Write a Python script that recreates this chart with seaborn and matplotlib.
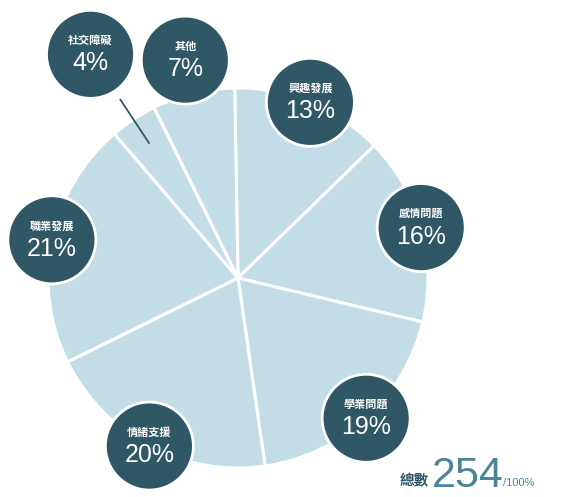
import numpy as np
import matplotlib
matplotlib.use('Agg')
import matplotlib.pyplot as plt
from matplotlib.patches import Circle
import seaborn as sns

# data (clockwise from the top)
categories = ['興趣發展', '感情問題', '學業問題', '情緒支援', '職業發展', '社交障礙', '其他']
percents = [13, 16, 19, 20, 21, 4, 7]
total = 254

sns.set_theme(style='white')
plt.rcParams['font.family'] = ['Noto Sans CJK TC', 'DejaVu Sans']

slice_color = '#c3dde6'
dark = '#2f5766'
mid_blue = '#4a8499'
num_font = ['Liberation Sans', 'DejaVu Sans']

W, H = 567, 497
cx, cy, R = 238, 219, 190
bubble_r = 44

fig = plt.figure(figsize=(W / 100, H / 100), dpi=100)
ax = fig.add_axes([0, 0, 1, 1])

wedges, _ = ax.pie(percents, colors=[slice_color] * len(percents), startangle=91,
                   counterclock=False, center=(cx, cy), radius=R,
                   wedgeprops=dict(edgecolor='white', linewidth=2.2))
ax.set_xlim(0, W)
ax.set_ylim(0, H)
ax.set_aspect('equal')
ax.axis('off')

for w, name, pct in zip(wedges, categories, percents):
    ang = np.deg2rad((w.theta1 + w.theta2) / 2)
    # small slices get their bubble pushed further out
    if pct < 5:
        d = 1.41 * R
    elif pct < 10:
        d = 1.18 * R
    else:
        d = 1.0 * R
    x, y = cx + d * np.cos(ang), cy + d * np.sin(ang)
    if pct < 5:
        r0, r1 = d - bubble_r - 10, 0.85 * R
        ax.plot([cx + r0 * np.cos(ang), cx + r1 * np.cos(ang)],
                [cy + r0 * np.sin(ang), cy + r1 * np.sin(ang)],
                color=dark, lw=1.3, zorder=2)
    ax.add_patch(Circle((x, y), bubble_r, facecolor=dark, edgecolor='white',
                        linewidth=2, zorder=3))
    ax.text(x, y + 14, name, color='white', fontsize=8, fontweight='bold',
            ha='center', va='center', zorder=4)
    ax.text(x, y - 9, f'{pct}%', color='white', fontsize=18, family=num_font,
            ha='center', va='center', zorder=4)

# total
ax.text(429, 12, '總數', color=dark, fontsize=10.5, fontweight='bold',
        ha='right', va='baseline')
ax.text(432, 10, str(total), color=mid_blue, fontsize=31, family=num_font,
        ha='left', va='baseline')
ax.text(503, 11, '/100%', color=mid_blue, fontsize=8, family=num_font,
        ha='left', va='baseline')

fig.savefig('out.png', dpi=100, facecolor='white')
